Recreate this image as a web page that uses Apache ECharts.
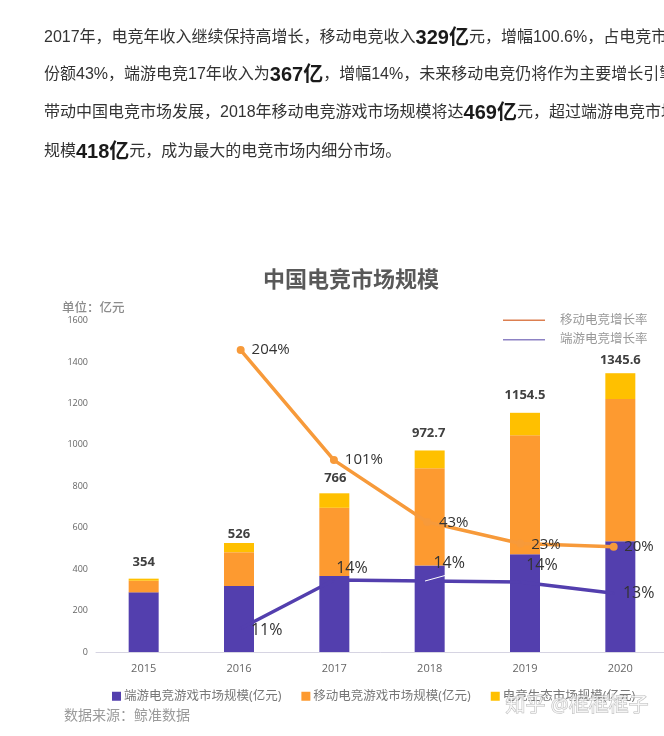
<!DOCTYPE html>
<html>
<head>
<meta charset="utf-8">
<style>html,body{margin:0;padding:0;background:#fff}#c{width:664px;height:736px}</style>
<script src="https://cdn.jsdelivr.net/npm/echarts@6/dist/echarts.min.js"></script>
</head>
<body>
<div id="c"></div>
<script>
const years = ['2015','2016','2017','2018','2019','2020'];
const lineYears = ['2016','2017','2018','2019','2020'];
const pcGame = [288,318,367,418,472,535];
const mobileGame = [56,164,329,469,574,686];
const ecosystem = [10,44,70,85.7,108.5,124.6];
const totals = ['354','526','766','972.7','1154.5','1345.6'];
const mobileRate = [204,101,43,23,20];
const pcRate = [10.7,14,13.93,13.86,13.1];
const mobileRateLabels = ['204%','101%','43%','23%','20%'];
const pcRateLabels = ['11%','14%','14%','14%','13%'];
const paragraph = [
  ['2017年，电竞年收入继续保持高增长，移动电竞收入','*329亿','元，增幅100.6%，占电竞市场'],
  ['份额43%，端游电竞17年收入为','*367亿','，增幅14%，未来移动电竞仍将作为主要增长引擎，'],
  ['带动中国电竞市场发展，2018年移动电竞游戏市场规模将达','*469亿','元，超过端游电竞市场'],
  ['规模','*418亿','元，成为最大的电竞市场内细分市场。']
];
const nameBarPc='端游电竞游戏市场规模(亿元)', nameBarMobile='移动电竞游戏市场规模(亿元)', nameBarEco='电竞生态市场规模(亿元)';
const nameMobileRate='移动电竞增长率', namePcRate='端游电竞增长率';

const totalOffsets=[[0,-4],[0,4],[1,-2],[-1,-5],[0,-5],[0,0]];
const mobileOffsets=[[30,0],[30,0],[26.5,0.7],[25.5,1],[25.3,0]];
const pcOffsets=[[26,2],[18,-12],[22,-18],[21.5,-17],[25,0]];
const CJK='"Liberation Sans","Noto Sans CJK SC",sans-serif';
const UI='"Open Sans","Noto Sans CJK SC",sans-serif';
const paraY=[41,78,116,155];
const GRID_TOP=320.5, GRID_H=331.5;

const paraGraphics=paragraph.map((segs,i)=>({
  type:'text',left:44,top:paraY[i]-13,silent:true,
  style:{
    text:segs.map(s=>s[0]==='*'?`{b|${s.slice(1)}}`:`{a|${s}}`).join(''),
    rich:{
      a:{fontSize:16,fontFamily:CJK,fill:'#333',lineHeight:26,verticalAlign:'middle'},
      b:{fontSize:20,fontWeight:'bold',fontFamily:CJK,fill:'#1a1a1a',lineHeight:26,verticalAlign:'middle'}
    }
  }
}));

const chart=echarts.init(document.getElementById('c'),null,{renderer:'canvas'});
chart.setOption({
  backgroundColor:'#fff',
  animation:false,
  title:{text:'中国电竞市场规模',left:258,top:265,textStyle:{fontSize:22,fontWeight:'bold',color:'#595959',fontFamily:UI}},
  grid:[
    {left:96,top:GRID_TOP,width:572,height:GRID_H,outerBoundsMode:'none'},
    {left:100.8,top:GRID_TOP,width:559.5,height:GRID_H,outerBoundsMode:'none'}
  ],
  xAxis:[
    {type:'category',gridIndex:0,data:years,axisTick:{show:false},
     axisLine:{lineStyle:{color:'#d6d4e2',width:1}},
     axisLabel:{color:'#666',fontSize:11,margin:11,fontFamily:UI}},
    {type:'category',gridIndex:1,data:['2015'].concat(lineYears),show:false}
  ],
  yAxis:[
    {type:'value',gridIndex:0,min:0,max:1600,interval:200,
     axisLine:{show:false},axisTick:{show:false},splitLine:{show:false},
     axisLabel:{color:'#666',fontSize:9,margin:8,fontFamily:UI,formatter:v=>String(v)}},
    {type:'value',gridIndex:1,min:-78.65,max:231.7,show:false,splitLine:{show:false}},
    {type:'value',gridIndex:1,min:9.1,max:31.65,show:false,splitLine:{show:false}}
  ],
  legend:[
    {left:107,top:685,itemWidth:9,itemHeight:9,itemGap:20,icon:'rect',
     data:[nameBarPc,nameBarMobile,nameBarEco],
     textStyle:{color:'#777',fontSize:12.5,fontFamily:UI,padding:[0,0,0,-2]}},
    {left:498,top:309,orient:'vertical',itemWidth:42,itemHeight:1.5,itemGap:7,icon:'rect',
     data:[{name:nameMobileRate,itemStyle:{color:'#dc7f50'}},{name:namePcRate,itemStyle:{color:'#8d82c4'}}],
     textStyle:{color:'#999',fontSize:12.5,fontFamily:UI,padding:[0,0,0,10]}}
  ],
  series:[
    {name:nameBarPc,type:'bar',stack:'m',barWidth:30,data:pcGame,itemStyle:{color:'#533FAE'},z:2},
    {name:nameBarMobile,type:'bar',stack:'m',barWidth:30,data:mobileGame,itemStyle:{color:'#FD9A30'},z:2},
    {name:nameBarEco,type:'bar',stack:'m',barWidth:30,itemStyle:{color:'#FFC000'},z:2,
     data:ecosystem.map((v,i)=>({value:v,label:{offset:totalOffsets[i]}})),
     label:{show:true,position:'top',distance:6,
       formatter:p=>totals[p.dataIndex],
       color:'#404040',fontSize:13,fontWeight:'bold',fontFamily:UI}},
    {name:nameMobileRate,type:'line',xAxisIndex:1,yAxisIndex:1,z:5,
     data:[null].concat(mobileRate.map((v,i)=>({value:v,label:{offset:mobileOffsets[i]}}))),
     lineStyle:{color:'#F79A3A',width:3.5},itemStyle:{color:'#F79A3A'},
     symbol:'circle',symbolSize:8,
     label:{show:true,position:'inside',color:'#333',fontSize:15,fontFamily:UI,
       formatter:p=>mobileRateLabels[p.dataIndex-1]}},
    {name:namePcRate,type:'line',xAxisIndex:1,yAxisIndex:2,z:5,
     data:[null].concat(pcRate.map((v,i)=>({value:v,label:{offset:pcOffsets[i]}}))),
     lineStyle:{color:'#533FAE',width:3.5},itemStyle:{color:'#533FAE'},
     symbol:'circle',symbolSize:2,showSymbol:true,
     label:{show:true,position:'inside',color:'#333',fontSize:16,fontFamily:UI,
       formatter:p=>pcRateLabels[p.dataIndex-1]}}
  ],
  graphic:paraGraphics.concat([
    {type:'text',left:62,top:302,silent:true,style:{text:'单位：亿元',fontSize:12.5,fontFamily:UI,fill:'#8c8c8c',fontWeight:500}},
    {type:'text',left:64,top:709,silent:true,style:{text:'数据来源：鲸准数据',fontSize:14,fontFamily:UI,fill:'#9a9a9a'}},
    {type:'line',silent:true,z:20,shape:{x1:425,y1:581,x2:445,y2:575.5},style:{stroke:'#fff',lineWidth:1}},
    {type:'text',left:505,top:696,silent:true,z:30,style:{text:'知乎 @框框框子',fontSize:20,fontFamily:UI,
      fill:'rgba(255,255,255,0.75)',stroke:'rgba(130,130,130,0.55)',lineWidth:1}}
  ])
});
</script>
</body>
</html>
